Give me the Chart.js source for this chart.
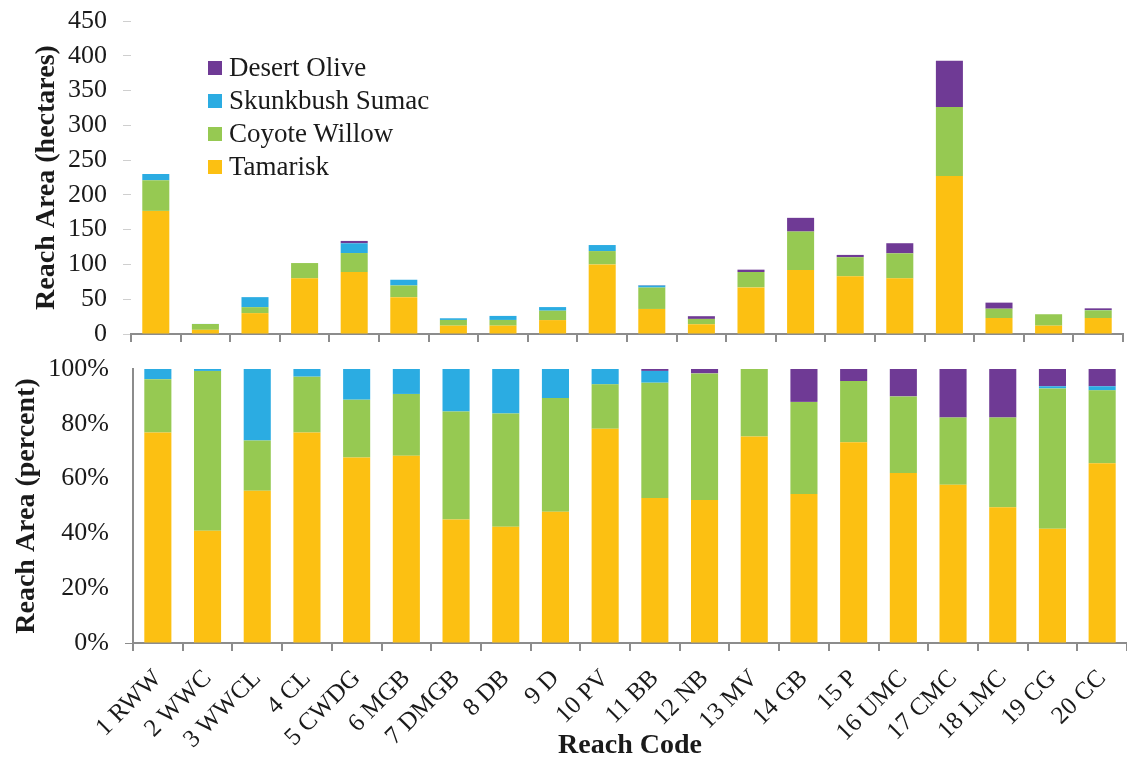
<!DOCTYPE html>
<html>
<head>
<meta charset="utf-8">
<script src="https://cdn.jsdelivr.net/npm/chart.js@4.4.1/dist/chart.umd.min.js"></script>
<style>
  body { margin: 0; background: #fff; width: 1127px; height: 760px; overflow: hidden; position: relative; }
  .box { position: absolute; left: 0; }
  #legend { position: absolute; left: 208px; top: 51px; font-family: 'Liberation Serif', serif; font-size: 27px; color: #1a1a1a; }
  #legend div { height: 33px; line-height: 33px; white-space: nowrap; }
  #legend span { display: inline-block; width: 14px; height: 14px; margin-right: 7px; vertical-align: 1px; }
</style>
</head>
<body>
<div class="box" style="top:0"><canvas id="top" width="1127" height="350"></canvas></div>
<div class="box" style="top:350px"><canvas id="bottom" width="1127" height="410"></canvas></div>
<div id="legend"></div>
<script>
// reach codes along the x axis
const reaches = ['1 RWW', '2 WWC', '3 WWCL', '4 CL', '5 CWDG', '6 MGB', '7 DMGB', '8 DB', '9 D', '10 PV',
  '11 BB', '12 NB', '13 MV', '14 GB', '15 P', '16 UMC', '17 CMC', '18 LMC', '19 CG', '20 CC'];

// area in hectares (top panel)
const tamariskHa  = [177, 6, 30, 80, 89, 53, 12, 12, 20, 100, 36, 14, 67, 92, 83, 80, 227, 23, 12, 23];
const coyoteHa    = [44, 8.4, 8.6, 22, 27.4, 16.8, 8.2, 8.2, 13.5, 19.2, 30.8, 7.7, 22.1, 55.3, 27.4, 36, 99.5, 13.4, 16.4, 11.1];
const skunkbushHa = [9, 0.1, 14.4, 0, 14, 8.2, 2.4, 5.8, 5.2, 8.7, 2.9, 0, 0, 0, 0, 0, 0, 0, 0, 0.4];
const oliveHa     = [0, 0, 0, 0, 3.4, 0, 0, 0, 0, 0, 0.5, 3.9, 3.4, 19.7, 3.3, 14.5, 66.4, 8.7, 0, 2.4];

// share of reach area in percent (bottom panel)
const tamariskPct  = [76.8, 41, 55.6, 76.8, 67.7, 68.3, 45.1, 42.4, 47.9, 78.2, 52.9, 52.2, 75.4, 54.4, 73.3, 62, 57.8, 49.5, 41.7, 65.6];
const coyotePct    = [19.5, 58.3, 18.3, 20.4, 21.1, 22.6, 39.4, 41.4, 41.5, 16.2, 42.1, 46.2, 24.6, 33.6, 22.3, 28, 24.5, 32.8, 51.2, 26.6];
const skunkbushPct = [3.7, 0.7, 26.1, 2.8, 11.2, 9.1, 15.5, 16.2, 10.6, 5.6, 4.3, 0, 0, 0, 0, 0, 0, 0, 0.8, 1.5];
const olivePct     = [0, 0, 0, 0, 0, 0, 0, 0, 0, 0, 0.7, 1.6, 0, 12, 4.4, 10, 17.7, 17.7, 6.3, 6.3];

const species = ['Tamarisk', 'Coyote Willow', 'Skunkbush Sumac', 'Desert Olive'];
const colors = ['#FCC012', '#96C952', '#2BACE2', '#6F3A95'];

Chart.defaults.font.family = "'Liberation Serif', 'DejaVu Serif', serif";
Chart.defaults.color = '#1a1a1a';

function sets(arrs) {
  return arrs.map((d, i) => ({
    label: species[i],
    data: d,
    backgroundColor: colors[i],
    categoryPercentage: 1,
    barPercentage: 0.545
  }));
}

const axisGray = '#8c8c8c';

// pin the plot edges so both panels line up with the picture
function fixY(w) {
  return s => { s.width = w; s.paddingTop = 0; s.paddingBottom = 0; };
}
function fixX(h) {
  return s => { s.height = h; s.paddingLeft = 0; s.paddingRight = 0; };
}

new Chart(document.getElementById('top'), {
  type: 'bar',
  data: { labels: reaches, datasets: sets([tamariskHa, coyoteHa, skunkbushHa, oliveHa]) },
  options: {
    responsive: false,
    animation: false,
    layout: { padding: { top: 21, right: 4, left: 0, bottom: 0 } },
    plugins: { legend: { display: false }, tooltip: { enabled: false } },
    scales: {
      x: {
        stacked: true,
        ticks: { display: false },
        grid: { drawOnChartArea: false, tickLength: 8, color: axisGray, lineWidth: 2 },
        border: { color: axisGray, width: 2 },
        afterFit: fixX(16)
      },
      y: {
        stacked: true,
        min: 0, max: 450,
        ticks: { stepSize: 50, font: { size: 26 }, padding: 16 },
        grid: { drawOnChartArea: false, tickLength: 8, color: '#cfcfcf' },
        border: { display: false },
        title: { display: true, text: 'Reach Area (hectares)', font: { size: 28, weight: 'bold' }, padding: { top: 30, bottom: 0 } },
        afterFit: fixY(131)
      }
    }
  }
});

new Chart(document.getElementById('bottom'), {
  type: 'bar',
  data: { labels: reaches, datasets: sets([tamariskPct, coyotePct, skunkbushPct, olivePct]) },
  options: {
    responsive: false,
    animation: false,
    layout: { padding: { top: 19, right: 0, left: 0, bottom: 0 } },
    plugins: { legend: { display: false }, tooltip: { enabled: false } },
    scales: {
      x: {
        stacked: true,
        ticks: { autoSkip: false, minRotation: 45, maxRotation: 45, font: { size: 25 }, padding: 13 },
        grid: { drawOnChartArea: false, tickLength: 8, color: axisGray, lineWidth: 2 },
        border: { color: axisGray, width: 2 },
        title: { display: true, text: 'Reach Code', font: { size: 28, weight: 'bold', lineHeight: 1 }, padding: { top: 0, bottom: 0 } },
        afterFit: fixX(117)
      },
      y: {
        stacked: true,
        min: 0, max: 100,
        ticks: { stepSize: 20, font: { size: 26 }, padding: 16, callback: v => v + '%' },
        grid: {
          drawOnChartArea: false, tickLength: 8,
          tickColor: c => (c.tick && c.tick.value === 0 ? axisGray : 'rgba(0,0,0,0)')
        },
        border: { color: axisGray, width: 2 },
        title: { display: true, text: 'Reach Area (percent)', font: { size: 28, weight: 'bold' }, padding: { top: 10, bottom: 0 } },
        afterFit: fixY(133)
      }
    }
  }
});

// legend, listed top to bottom in reverse stacking order
const legend = document.getElementById('legend');
for (let i = species.length - 1; i >= 0; i--) {
  const row = document.createElement('div');
  row.innerHTML = '<span style="background:' + colors[i] + '"></span>' + species[i];
  legend.appendChild(row);
}
</script>
</body>
</html>
